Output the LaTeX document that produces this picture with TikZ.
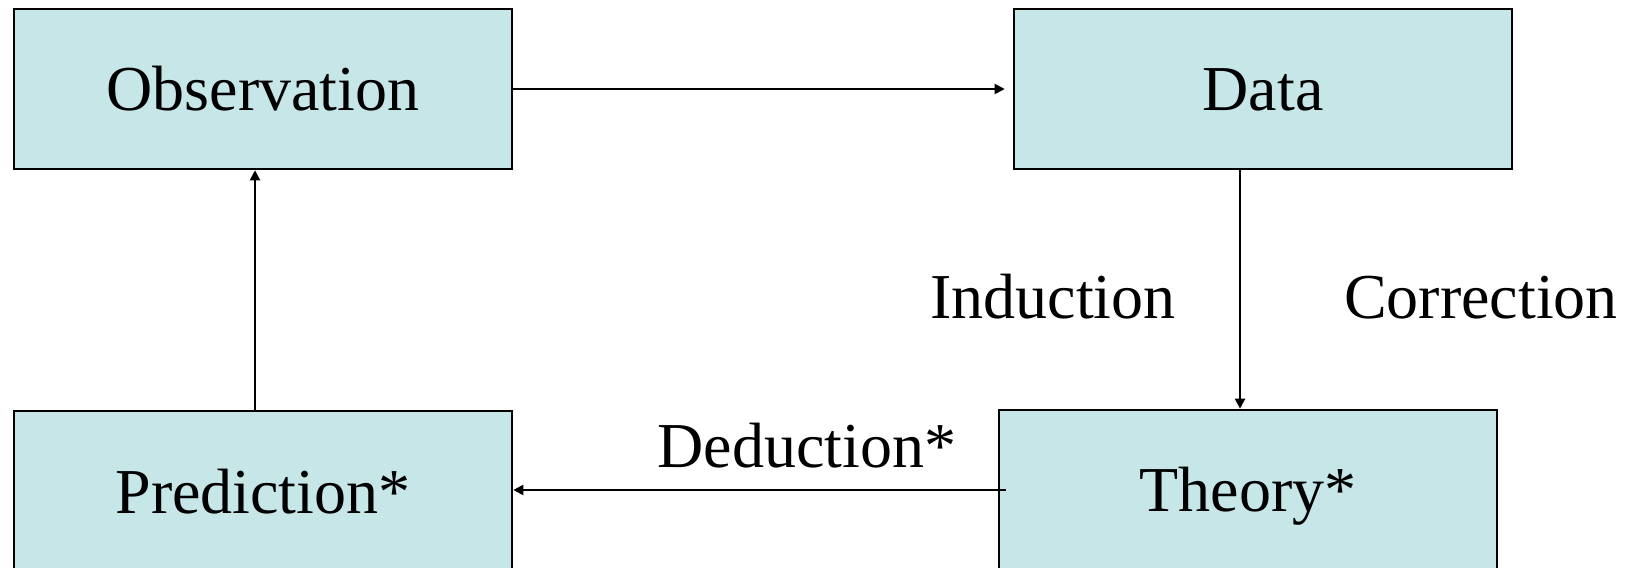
\documentclass[tikz,border=0pt]{standalone}
\usepackage{fontspec}
\setmainfont{Liberation Serif}
\usetikzlibrary{arrows.meta}
\definecolor{boxfill}{RGB}{198,230,232}

\begin{document}
\begin{tikzpicture}[x=0.5pt, y=0.5pt,
    box/.style={rectangle, draw, line width=1.3pt, fill=boxfill, minimum width=249pt, minimum height=80pt, text height=22pt, text depth=0pt, inner sep=0pt},
    lbl/.style={anchor=base, inner sep=0pt},
    link/.style={line width=1pt, -{Triangle[length=5pt, width=5pt]}},
    every node/.style={font=\fontsize{32}{38}\selectfont}]
    \useasboundingbox (0,0) rectangle (1631,567);
    \clip (0,0) rectangle (1631,567);
    \node[box] (obs) at (263,478) {Observation};
    \node[box] (data) at (1263,478) {Data};
    \node[box] (pred) at (263,76) {Prediction*};
    \node[box] (theory) at (1248,77) {Theory*};
    \draw[link] (obs.east) -- ([xshift=-4pt]data.west);
    \draw[link] ([xshift=-11.5pt]data.south) -- ([xshift=-11.5pt]data.south |- theory.north);
    \draw[link] ([xshift=4pt]theory.west) -- (theory.west -| pred.east);
    \draw[link] ([xshift=-4pt]pred.north) -- ([xshift=-4pt]obs.south);
    \node[lbl] (ind) at (1053,248) {Induction};
    \node[lbl] (corr) at (1481,248) {Correction};
    \node[lbl] (ded) at (807,99) {Deduction*};
\end{tikzpicture}
\end{document}
